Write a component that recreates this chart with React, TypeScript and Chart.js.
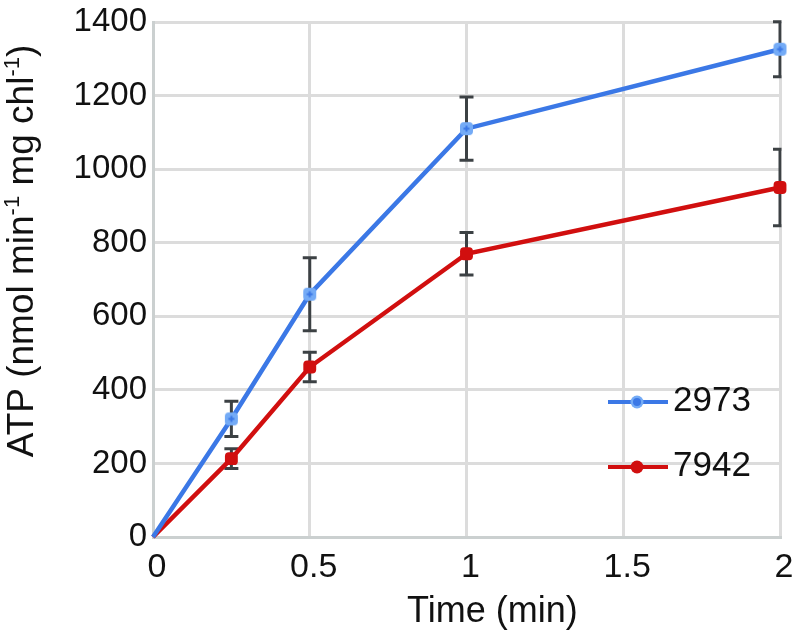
import React, { useEffect, useRef } from 'react';
import { Chart, registerables } from 'chart.js';

Chart.register(...registerables);

const times = [0, 0.25, 0.5, 1, 2];
const atp2973 = [0, 321, 660, 1110, 1326];
const err2973 = [0, 48, 99, 86, 75];
const atp7942 = [0, 213, 462, 770, 950];
const err7942 = [0, 27, 40, 58, 104];
const seriesNames = ['2973', '7942'];
const xTitle = 'Time (min)';
const yTitleParts: [string, boolean][] = [
  ['ATP (nmol min', false],
  ['-1', true],
  [' mg chl', false],
  ['-1', true],
  [')', false],
];

const FONT = "'Liberation Sans', Arial, sans-serif";
const BLUE = '#3b78e6';
const BLUE_LIGHT = '#74abf6';
const RED = '#d10f0f';
const ERR = '#3c4144';
const GRID = '#dcdcdc';
const AXIS = '#cbd0d0';

function makeBlueMarker() {
  const c = document.createElement('canvas');
  c.width = 15;
  c.height = 15;
  const g = c.getContext('2d')!;
  g.fillStyle = BLUE_LIGHT;
  g.beginPath();
  (g as any).roundRect(1, 1, 13, 13, 4);
  g.fill();
  g.strokeStyle = BLUE;
  g.lineWidth = 2;
  g.beginPath();
  g.moveTo(4.5, 7.5);
  g.lineTo(10.5, 7.5);
  g.moveTo(7.5, 4.5);
  g.lineTo(7.5, 10.5);
  g.stroke();
  return c;
}

const errorBarPlugin = {
  id: 'errorBars',
  beforeDatasetsDraw(chart: any) {
    const { ctx, chartArea, scales } = chart;
    const errs = [err2973, err7942];
    ctx.save();
    ctx.beginPath();
    ctx.rect(chartArea.left - 20, chartArea.top - 6, chartArea.right - chartArea.left + 21.5, chartArea.bottom - chartArea.top + 12);
    ctx.clip();
    ctx.strokeStyle = ERR;
    ctx.lineWidth = 3;
    chart.data.datasets.forEach((ds: any, i: number) => {
      const meta = chart.getDatasetMeta(i);
      ds.data.forEach((p: any, j: number) => {
        const e = errs[i][j];
        if (!e) return;
        const x = meta.data[j].x;
        const yt = scales.y.getPixelForValue(p.y + e);
        const yb = scales.y.getPixelForValue(p.y - e);
        ctx.beginPath();
        ctx.moveTo(x, yt);
        ctx.lineTo(x, yb);
        ctx.moveTo(x - 7, yt);
        ctx.lineTo(x + 7, yt);
        ctx.moveTo(x - 7, yb);
        ctx.lineTo(x + 7, yb);
        ctx.stroke();
      });
    });
    ctx.restore();
  },
};

const textPlugin = {
  id: 'texts',
  afterDraw(chart: any) {
    const { ctx } = chart;
    ctx.save();
    ctx.fillStyle = '#111';
    // y title
    ctx.translate(33, 251);
    ctx.rotate(-Math.PI / 2);
    ctx.textBaseline = 'alphabetic';
    ctx.textAlign = 'left';
    let total = 0;
    yTitleParts.forEach(([t, sup]) => {
      ctx.font = `${sup ? 22 : 37}px ${FONT}`;
      total += ctx.measureText(t).width;
    });
    let x = -total / 2;
    yTitleParts.forEach(([t, sup]) => {
      ctx.font = `${sup ? 22 : 37}px ${FONT}`;
      ctx.fillText(t, x, sup ? -14 : 0);
      x += ctx.measureText(t).width;
    });
    ctx.setTransform(1, 0, 0, 1, 0, 0);
    // x title
    ctx.font = `36px ${FONT}`;
    ctx.textAlign = 'left';
    ctx.fillText(xTitle, 407, 622);
    // legend
    const rows = [
      { name: seriesNames[0], color: BLUE, light: BLUE_LIGHT, y: 402 },
      { name: seriesNames[1], color: RED, light: RED, y: 467 },
    ];
    rows.forEach((r) => {
      ctx.strokeStyle = r.color;
      ctx.lineWidth = 4;
      ctx.beginPath();
      ctx.moveTo(608, r.y);
      ctx.lineTo(668, r.y);
      ctx.stroke();
      ctx.fillStyle = r.light;
      ctx.beginPath();
      ctx.arc(637, r.y, 6.5, 0, Math.PI * 2);
      ctx.fill();
      ctx.fillStyle = r.color;
      ctx.beginPath();
      ctx.arc(637, r.y, 4, 0, Math.PI * 2);
      ctx.fill();
      ctx.fillStyle = '#111';
      ctx.font = `35px ${FONT}`;
      ctx.textAlign = 'left';
      ctx.fillText(r.name, 673, r.y + 9);
    });
    ctx.restore();
  },
};

export default function App() {
  const ref = useRef<HTMLCanvasElement>(null);
  useEffect(() => {
    document.body.style.margin = '0';
    const marker = makeBlueMarker();
    const chart = new Chart(ref.current!, {
      type: 'line',
      data: {
        datasets: [
          {
            label: seriesNames[0],
            data: times.map((t, i) => ({ x: t, y: atp2973[i] })),
            borderColor: BLUE,
            backgroundColor: BLUE_LIGHT,
            borderWidth: 4.5,
            pointStyle: marker as any,
            pointRadius: times.map((t) => (t === 0 ? 0 : 7)),
            clip: false as any,
          },
          {
            label: seriesNames[1],
            data: times.map((t, i) => ({ x: t, y: atp7942[i] })),
            borderColor: RED,
            backgroundColor: RED,
            borderWidth: 4.5,
            pointStyle: 'rectRounded',
            pointRadius: times.map((t) => (t === 0 ? 0 : 7.5)),
            pointBorderWidth: 0,
            clip: false as any,
          },
        ],
      },
      options: {
        animation: false,
        responsive: false,
        layout: { padding: { top: 22, right: 13, left: 0, bottom: 0 } },
        plugins: { legend: { display: false }, tooltip: { enabled: false } },
        scales: {
          x: {
            type: 'linear',
            min: 0,
            max: 2,
            ticks: {
              stepSize: 0.5,
              padding: 10,
              color: '#111',
              font: { family: FONT, size: 34 },
              maxRotation: 0,
              labelOffset: 4,
              callback: (v: any) => String(v),
            },
            grid: { color: GRID, lineWidth: 3, drawTicks: false },
            border: { color: AXIS, width: 3 },
            afterFit: (s: any) => {
              s.height = 97;
              s.paddingLeft = 0;
              s.paddingRight = 0;
            },
          },
          y: {
            min: 0,
            max: 1400,
            ticks: {
              stepSize: 200,
              padding: 6,
              color: '#111',
              font: { family: FONT, size: 33 },
              callback: (v: any) => String(v),
            },
            grid: { color: GRID, lineWidth: 3, drawTicks: false },
            border: { color: AXIS, width: 3 },
            afterFit: (s: any) => {
              s.width = 153;
              s.paddingTop = 0;
              s.paddingBottom = 0;
            },
          },
        },
      },
      plugins: [errorBarPlugin, textPlugin],
    });
    return () => chart.destroy();
  }, []);
  return <canvas ref={ref} width={793} height={634} style={{ display: 'block' }} />;
}
